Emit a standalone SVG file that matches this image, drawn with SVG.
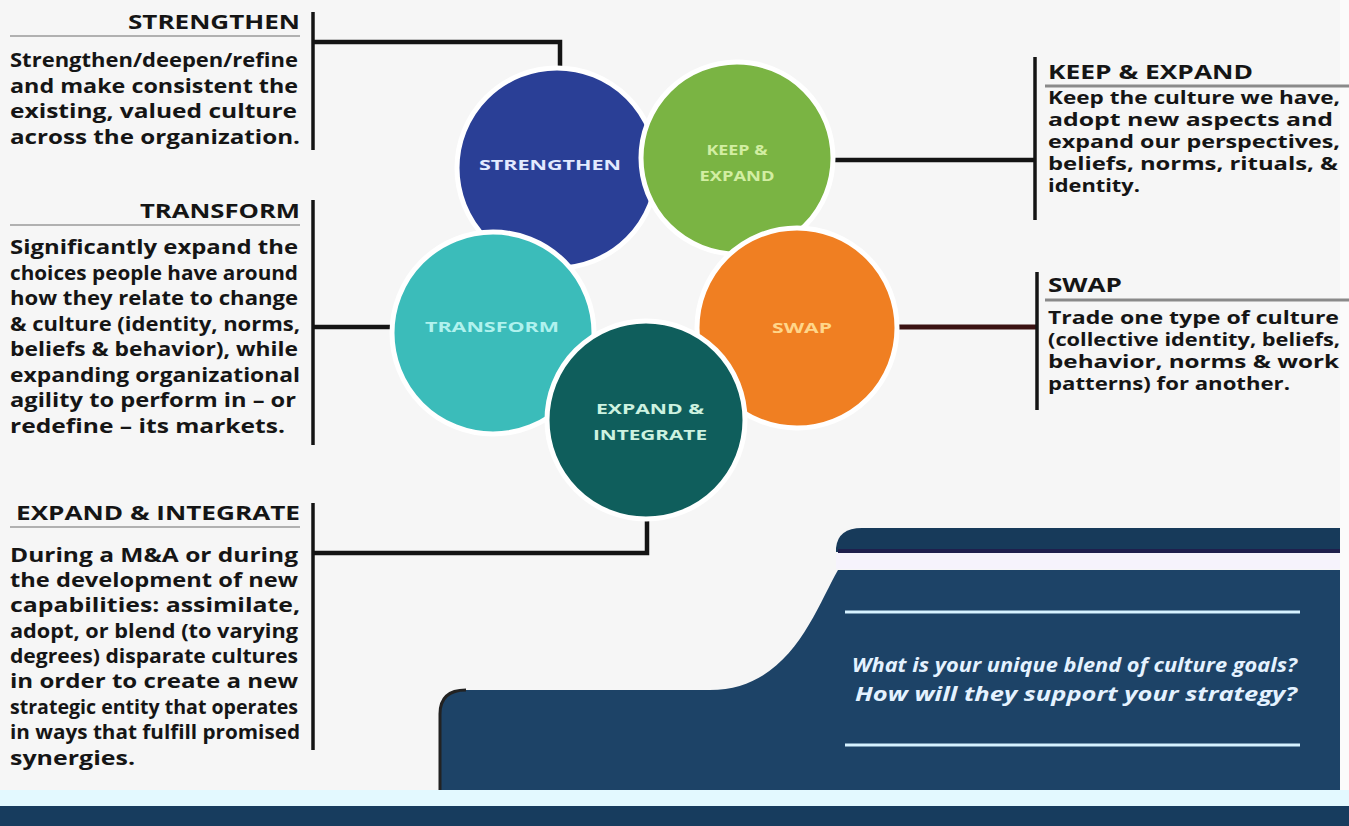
<svg xmlns="http://www.w3.org/2000/svg" width="1349" height="826" viewBox="0 0 1349 826">
<style>
.hd{font-family:"Open Sans","Liberation Sans",sans-serif;font-weight:bold;font-size:19px;fill:#151515}
.bd{font-family:"Open Sans","Liberation Sans",sans-serif;font-weight:bold;font-size:20px;fill:#151515}
.rb{font-family:"Open Sans","Liberation Sans",sans-serif;font-weight:bold;font-size:17.5px;fill:#151515}
.ct{font-family:"Open Sans","Liberation Sans",sans-serif;font-weight:bold;font-size:15px;text-anchor:middle}
.q{font-family:"Open Sans","Liberation Sans",sans-serif;font-weight:bold;font-style:italic;font-size:19px;fill:#e4f2ff}
.sep{stroke:#9a9a9a;stroke-width:1.6;fill:none}
.sepr{stroke:#8a8a8a;stroke-width:3;fill:none}
.con{stroke:#141414;stroke-width:4.5;fill:none}
.br{stroke:#141414;stroke-width:3.5;fill:none}
.circ{stroke:#ffffff;stroke-width:5}
</style>
<rect x="0" y="0" width="1349" height="826" fill="#f6f6f6"/>

<g id="panel">
<path d="M836 552 L836 548 Q838 528 862 528 L1340 528 L1340 552 Z" fill="#173a5a"/>
<rect x="838" y="549" width="502" height="4" fill="#1f1f4d"/>
<rect x="836" y="553" width="504" height="16" fill="#f6f3fc"/>
<path d="M440 790 L440 714 Q440 690 466 690 L710 690 C790 690 815 610 838 570 L1340 570 L1340 790 Z" fill="#1d4367"/>
<path d="M440 790 L440 714 Q440 690 466 690" fill="none" stroke="#222" stroke-width="3"/>
<line x1="845" y1="612" x2="1300" y2="612" stroke="#d6f2ff" stroke-width="3"/>
<line x1="845" y1="745" x2="1300" y2="745" stroke="#d6f2ff" stroke-width="3"/>
<text class="q" x="852" y="672" textLength="445" lengthAdjust="spacingAndGlyphs">What is your unique blend of culture goals?</text>
<text class="q" x="855" y="701" textLength="442" lengthAdjust="spacingAndGlyphs">How will they support your strategy?</text>
<rect x="0" y="790" width="1349" height="16" fill="#e3f9ff"/>
<rect x="0" y="806" width="1349" height="20" fill="#173c5e"/>
<rect x="1340" y="0" width="9" height="790" fill="#fbfbfb"/>
</g>

<g id="connectors">
<polyline class="con" points="313,42 560,42 560,70"/>
<line class="br" x1="313" y1="12" x2="313" y2="150"/>
<line class="con" x1="830" y1="160" x2="1035" y2="160"/>
<line class="br" x1="1035" y1="57" x2="1035" y2="220"/>
<line class="con" x1="313" y1="327" x2="393" y2="327"/>
<line class="br" x1="313" y1="200" x2="313" y2="445"/>
<line x1="895" y1="327" x2="1037" y2="327" stroke="#3a1212" stroke-width="5"/>
<line class="br" x1="1037" y1="272" x2="1037" y2="410"/>
<polyline class="con" points="313,553 647,553 647,518"/>
<line class="br" x1="313" y1="503" x2="313" y2="750"/>
</g>

<g id="node-strengthen">
<circle class="circ" cx="557" cy="168" r="100" fill="#2a3f96"/>
<text class="ct" x="550" y="170" fill="#e2eaff" textLength="142" lengthAdjust="spacingAndGlyphs">STRENGTHEN</text>
</g>
<g id="node-keep-expand">
<circle class="circ" cx="737" cy="158" r="96" fill="#7ab443"/>
<text class="ct" x="737" y="155" fill="#d2eea2" textLength="61" lengthAdjust="spacingAndGlyphs">KEEP &amp;</text>
<text class="ct" x="737" y="181" fill="#d2eea2" textLength="75" lengthAdjust="spacingAndGlyphs">EXPAND</text>
</g>
<g id="node-swap">
<circle class="circ" cx="797" cy="328" r="100" fill="#f07f22"/>
<text class="ct" x="802" y="333" fill="#ffd68a" textLength="60" lengthAdjust="spacingAndGlyphs">SWAP</text>
</g>
<g id="node-transform">
<circle class="circ" cx="493" cy="333" r="101" fill="#3bbcba"/>
<text class="ct" x="492" y="332" fill="#b0f2ee" textLength="134" lengthAdjust="spacingAndGlyphs">TRANSFORM</text>
</g>
<g id="node-expand-integrate">
<circle class="circ" cx="646" cy="420" r="99" fill="#0f5e5c"/>
<text class="ct" x="650" y="414" fill="#cdf2e0" textLength="108" lengthAdjust="spacingAndGlyphs">EXPAND &amp;</text>
<text class="ct" x="650" y="440" fill="#cdf2e0" textLength="114" lengthAdjust="spacingAndGlyphs">INTEGRATE</text>
</g>

<g id="text-strengthen">
<text class="hd" x="128" y="29" textLength="172" lengthAdjust="spacingAndGlyphs">STRENGTHEN</text>
<line class="sep" x1="10" y1="36" x2="300" y2="36"/>
<text class="bd" x="10" y="67" textLength="288" lengthAdjust="spacingAndGlyphs">Strengthen/deepen/refine</text>
<text class="bd" x="10" y="93" textLength="288" lengthAdjust="spacingAndGlyphs">and make consistent the</text>
<text class="bd" x="10" y="118" textLength="287" lengthAdjust="spacingAndGlyphs">existing, valued culture</text>
<text class="bd" x="10" y="144" textLength="290" lengthAdjust="spacingAndGlyphs">across the organization.</text>
</g>

<g id="text-transform">
<text class="hd" x="140" y="218" textLength="160" lengthAdjust="spacingAndGlyphs">TRANSFORM</text>
<line class="sep" x1="10" y1="225" x2="300" y2="225"/>
<text class="bd" x="10" y="254" textLength="288" lengthAdjust="spacingAndGlyphs">Significantly expand the</text>
<text class="bd" x="10" y="280" textLength="288" lengthAdjust="spacingAndGlyphs">choices people have around</text>
<text class="bd" x="10" y="305" textLength="288" lengthAdjust="spacingAndGlyphs">how they relate to change</text>
<text class="bd" x="10" y="331" textLength="290" lengthAdjust="spacingAndGlyphs">&amp; culture (identity, norms,</text>
<text class="bd" x="10" y="356" textLength="288" lengthAdjust="spacingAndGlyphs">beliefs &amp; behavior), while</text>
<text class="bd" x="10" y="382" textLength="290" lengthAdjust="spacingAndGlyphs">expanding organizational</text>
<text class="bd" x="10" y="407" textLength="286" lengthAdjust="spacingAndGlyphs">agility to perform in – or</text>
<text class="bd" x="10" y="433" textLength="275" lengthAdjust="spacingAndGlyphs">redefine – its markets.</text>
</g>

<g id="text-expand-integrate">
<text class="hd" x="16" y="520" textLength="284" lengthAdjust="spacingAndGlyphs">EXPAND &amp; INTEGRATE</text>
<line class="sep" x1="10" y1="527" x2="300" y2="527"/>
<text class="bd" x="10" y="562" textLength="288" lengthAdjust="spacingAndGlyphs">During a M&amp;A or during</text>
<text class="bd" x="10" y="587" textLength="288" lengthAdjust="spacingAndGlyphs">the development of new</text>
<text class="bd" x="10" y="612" textLength="290" lengthAdjust="spacingAndGlyphs">capabilities: assimilate,</text>
<text class="bd" x="10" y="638" textLength="288" lengthAdjust="spacingAndGlyphs">adopt, or blend (to varying</text>
<text class="bd" x="10" y="663" textLength="288" lengthAdjust="spacingAndGlyphs">degrees) disparate cultures</text>
<text class="bd" x="10" y="688" textLength="288" lengthAdjust="spacingAndGlyphs">in order to create a new</text>
<text class="bd" x="10" y="714" textLength="288" lengthAdjust="spacingAndGlyphs">strategic entity that operates</text>
<text class="bd" x="10" y="739" textLength="290" lengthAdjust="spacingAndGlyphs">in ways that fulfill promised</text>
<text class="bd" x="10" y="765" textLength="125" lengthAdjust="spacingAndGlyphs">synergies.</text>
</g>

<g id="text-keep-expand">
<text class="hd" x="1048" y="79" textLength="205" lengthAdjust="spacingAndGlyphs">KEEP &amp; EXPAND</text>
<line class="sepr" x1="1045" y1="86" x2="1349" y2="86"/>
<text class="rb" x="1048" y="104" textLength="292" lengthAdjust="spacingAndGlyphs">Keep the culture we have,</text>
<text class="rb" x="1048" y="126" textLength="285" lengthAdjust="spacingAndGlyphs">adopt new aspects and</text>
<text class="rb" x="1048" y="148" textLength="292" lengthAdjust="spacingAndGlyphs">expand our perspectives,</text>
<text class="rb" x="1048" y="170" textLength="290" lengthAdjust="spacingAndGlyphs">beliefs, norms, rituals, &amp;</text>
<text class="rb" x="1048" y="192" textLength="92" lengthAdjust="spacingAndGlyphs">identity.</text>
</g>

<g id="text-swap">
<text class="hd" x="1048" y="292" textLength="74" lengthAdjust="spacingAndGlyphs">SWAP</text>
<line class="sepr" x1="1045" y1="300" x2="1349" y2="300"/>
<text class="rb" x="1048" y="324" textLength="291" lengthAdjust="spacingAndGlyphs">Trade one type of culture</text>
<text class="rb" x="1048" y="346" textLength="292" lengthAdjust="spacingAndGlyphs">(collective identity, beliefs,</text>
<text class="rb" x="1048" y="368" textLength="291" lengthAdjust="spacingAndGlyphs">behavior, norms &amp; work</text>
<text class="rb" x="1048" y="390" textLength="242" lengthAdjust="spacingAndGlyphs">patterns) for another.</text>
</g>
</svg>
